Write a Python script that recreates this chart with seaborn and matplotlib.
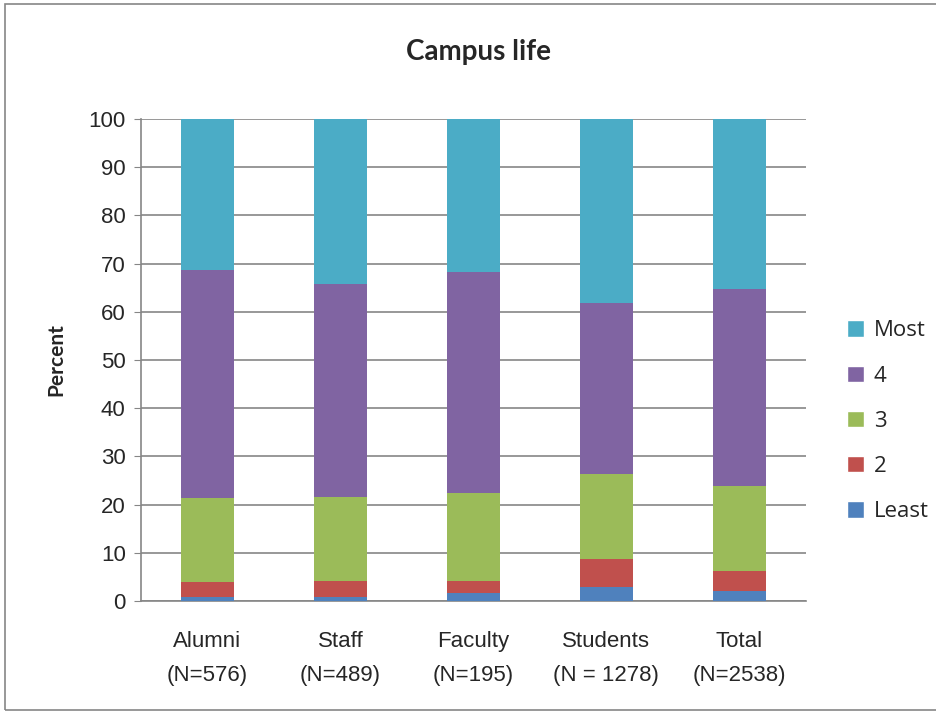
import numpy as np
import pandas as pd
import matplotlib
matplotlib.use("Agg")
import matplotlib.pyplot as plt
import seaborn as sns
from matplotlib.patches import Patch, Rectangle

# data (percent)
groups = ["Alumni\n(N=576)", "Staff\n(N=489)", "Faculty\n(N=195)", "Students\n(N = 1278)", "Total\n(N=2538)"]
least = [0.9, 0.9, 1.7, 2.9, 2.1]
two = [3.0, 3.3, 2.5, 5.9, 4.2]
three = [17.4, 17.3, 18.2, 17.6, 17.6]
four = [47.3, 44.2, 45.8, 35.5, 40.9]
most = [31.4, 34.3, 31.8, 38.1, 35.2]

levels = ["Least", "2", "3", "4", "Most"]
colors = {"Least": "#4F81BD", "2": "#C0504D", "3": "#9BBB59", "4": "#8064A2", "Most": "#4BACC6"}

sns.set_style("white")
plt.rcParams["font.family"] = ["Liberation Sans", "DejaVu Sans"]

df = pd.DataFrame({"group": groups, "Least": least, "2": two, "3": three, "4": four, "Most": most})
cum = df[levels].cumsum(axis=1)
cum["group"] = df["group"]

fig = plt.figure(figsize=(9.36, 7.14), dpi=100)
ax = fig.add_axes([0.1506, 0.1583, 0.7104, 0.675])

# stacked bars: draw cumulative tops from the highest level down
for lvl in reversed(levels):
    sns.barplot(data=cum, x="group", y=lvl, color=colors[lvl], width=0.4,
                saturation=1, ax=ax, zorder=3, edgecolor="none", linewidth=0)

ax.set_ylim(0, 100)
ax.set_xlim(-0.5, 4.5)
ax.set_yticks(np.arange(0, 101, 10))
ax.yaxis.grid(True, color="#868686", linewidth=1.2, zorder=0)
ax.set_axisbelow(True)
for side in ["top", "right"]:
    ax.spines[side].set_visible(False)
for side in ["left", "bottom"]:
    ax.spines[side].set_color("#868686")
    ax.spines[side].set_linewidth(1.2)
ax.tick_params(axis="y", left=True, length=5, color="#868686", labelsize=16, pad=6)
ax.tick_params(axis="x", bottom=False, labelsize=16, pad=18)
ax.set_xlabel("")
ax.set_ylabel("Percent", fontsize=15, fontweight="bold", family=["Lato", "DejaVu Sans"], labelpad=16)
for lab in ax.get_xticklabels():
    lab.set_linespacing(1.8)

fig.text(0.511, 0.927, "Campus life", ha="center", va="center", fontsize=20,
         fontweight="bold", family=["Lato", "DejaVu Sans"])

handles = [Patch(facecolor=colors[l], label=l) for l in reversed(levels)]
fig.legend(handles=handles, loc="center left", bbox_to_anchor=(0.905, 0.410), frameon=False,
           prop={"family": ["Open Sans", "DejaVu Sans"], "size": 16},
           handlelength=0.75, handleheight=0.75, handletextpad=0.45,
           labelspacing=1.09, borderaxespad=0, borderpad=0)

fig.patches.append(Rectangle((5 / 936, 4 / 714), 1.2, 1 - 8 / 714, transform=fig.transFigure,
                             fill=False, edgecolor="#868686", linewidth=1.2))

fig.savefig("out.png", dpi=100)
